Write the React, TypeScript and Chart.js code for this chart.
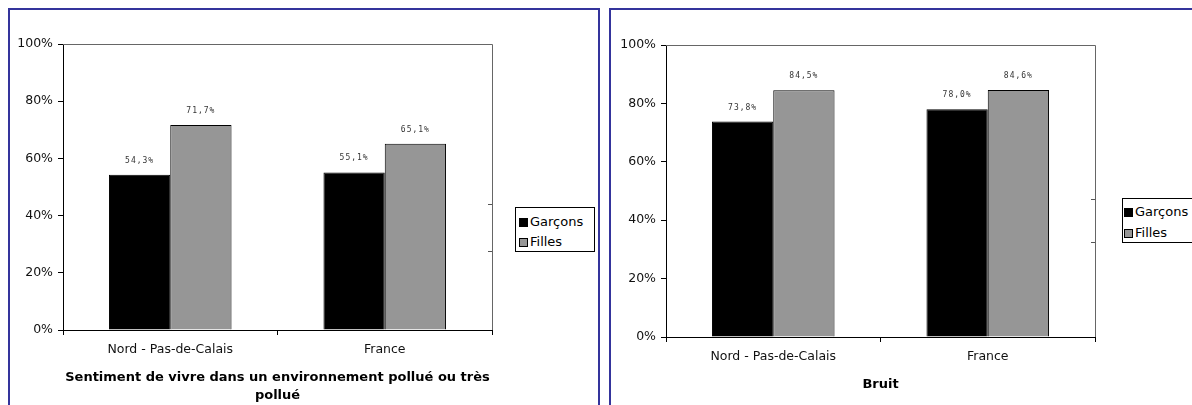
import React, { useEffect, useRef } from 'react';
import { Chart, registerables } from 'chart.js';

Chart.register(...registerables);

const categories = ['Nord - Pas-de-Calais', 'France'];
const seriesNames = ['Garçons', 'Filles'];
const seriesColors = ['#000000', '#969696'];
const pollutionGarcons = [54.3, 55.1];
const pollutionFilles = [71.7, 65.1];
const bruitGarcons = [73.8, 78.0];
const bruitFilles = [84.5, 84.6];
const yTickValues = [0, 20, 40, 60, 80, 100];
const pollutionTitle = ['Sentiment de vivre dans un environnement pollué ou très', 'pollué'];
const bruitTitle = 'Bruit';

const FONT = 'DejaVu Sans';

const framePlugin = {
  id: 'frame',
  afterDatasetsDraw(chart: any) {
    const { ctx, chartArea } = chart;
    const { left, top, right, bottom } = chartArea;
    ctx.save();
    ctx.strokeStyle = '#666666';
    ctx.lineWidth = 1;
    ctx.beginPath();
    ctx.moveTo(left, Math.round(top) + 0.5);
    ctx.lineTo(Math.round(right) + 0.5, Math.round(top) + 0.5);
    ctx.lineTo(Math.round(right) + 0.5, bottom);
    ctx.stroke();
    ctx.restore();
  },
};

const valueLabelPlugin = {
  id: 'valueLabels',
  afterDatasetsDraw(chart: any) {
    const { ctx } = chart;
    ctx.save();
    ctx.font = `8px "DejaVu Sans Mono"`;
    try {
      (ctx as any).letterSpacing = '1px';
    } catch (e) {}
    ctx.fillStyle = '#333333';
    ctx.textAlign = 'center';
    ctx.textBaseline = 'middle';
    chart.data.datasets.forEach((ds: any, i: number) => {
      const meta = chart.getDatasetMeta(i);
      meta.data.forEach((bar: any, j: number) => {
        const v = ds.data[j] as number;
        const txt = v.toFixed(1).replace('.', ',') + '%';
        ctx.fillText(txt, bar.x, bar.y - 14);
      });
    });
    ctx.restore();
  },
};

type Geom = {
  yWidth: number;
  padTop: number;
  padRight: number;
  xHeight: number;
  titlePadBottom: number;
};

function makeConfig(garcons: number[], filles: number[], title: string | string[], g: Geom): any {
  return {
    type: 'bar',
    data: {
      labels: categories,
      datasets: [
        {
          label: seriesNames[0],
          data: garcons,
          backgroundColor: seriesColors[0],
          borderColor: '#000000',
          borderWidth: 1,
          categoryPercentage: 0.5714,
          barPercentage: 1,
        },
        {
          label: seriesNames[1],
          data: filles,
          backgroundColor: seriesColors[1],
          borderColor: '#000000',
          borderWidth: 1,
          categoryPercentage: 0.5714,
          barPercentage: 1,
        },
      ],
    },
    options: {
      responsive: false,
      animation: false,
      devicePixelRatio: 1,
      layout: { padding: { left: 0, top: g.padTop, right: g.padRight, bottom: 0 } },
      plugins: {
        legend: { display: false },
        tooltip: { enabled: false },
        title: { display: false },
      },
      scales: {
        x: {
          grid: {
            display: true,
            drawOnChartArea: false,
            drawTicks: true,
            tickLength: 5,
            color: '#000000',
            offset: true,
          },
          border: { display: true, color: '#000000', width: 1 },
          ticks: {
            color: '#111111',
            font: { family: FONT, size: 12.5 },
            padding: 7,
            maxRotation: 0,
            autoSkip: false,
          },
          title: {
            display: true,
            text: title,
            color: '#000000',
            font: { family: FONT, size: 13, weight: 'bold', lineHeight: 1.38 },
            padding: { top: 0, bottom: g.titlePadBottom },
          },
          afterFit(scale: any) {
            scale.height = g.xHeight;
          },
        },
        y: {
          min: 0,
          max: 100,
          afterBuildTicks(scale: any) {
            scale.ticks = yTickValues.map((v) => ({ value: v }));
          },
          grid: {
            display: true,
            drawOnChartArea: false,
            drawTicks: true,
            tickLength: 5,
            color: '#000000',
          },
          border: { display: true, color: '#000000', width: 1 },
          ticks: {
            color: '#111111',
            font: { family: FONT, size: 12.5 },
            padding: 5,
            callback: (v: any) => `${v}%`,
          },
          afterFit(scale: any) {
            scale.width = g.yWidth;
          },
        },
      },
    },
    plugins: [framePlugin, valueLabelPlugin],
  };
}

function BarChart(props: {
  garcons: number[];
  filles: number[];
  title: string | string[];
  geom: Geom;
  left: number;
  top: number;
  width: number;
  height: number;
}) {
  const ref = useRef<HTMLCanvasElement | null>(null);
  useEffect(() => {
    if (!ref.current) return;
    const chart = new Chart(ref.current, makeConfig(props.garcons, props.filles, props.title, props.geom));
    return () => chart.destroy();
  }, []);
  return (
    <canvas
      ref={ref}
      width={props.width}
      height={props.height}
      style={{
        position: 'absolute',
        left: props.left,
        top: props.top,
        width: props.width,
        height: props.height,
      }}
    />
  );
}

function Legend(props: { left: number; top: number; width: number; height: number; swatchLeft: number; firstY: number; gap: number }) {
  return (
    <div
      style={{
        position: 'absolute',
        left: props.left,
        top: props.top,
        width: props.width,
        height: props.height,
        border: '1px solid #000',
        boxSizing: 'border-box',
        background: '#fff',
        fontFamily: FONT,
        fontSize: 13,
        color: '#000',
      }}
    >
      {seriesNames.map((name, i) => (
        <div
          key={name}
          style={{
            position: 'absolute',
            left: props.swatchLeft,
            top: props.firstY + i * props.gap - 8,
            height: 16,
            display: 'flex',
            alignItems: 'center',
            whiteSpace: 'nowrap',
          }}
        >
          <span
            style={{
              display: 'inline-block',
              width: 7,
              height: 7,
              background: seriesColors[i],
              border: '1px solid #000',
              marginRight: 2,
            }}
          />
          <span style={{ lineHeight: '16px' }}>{name}</span>
        </div>
      ))}
    </div>
  );
}

function Tick(props: { left: number; top: number }) {
  return (
    <div
      style={{
        position: 'absolute',
        left: props.left,
        top: props.top,
        width: 4,
        height: 1,
        background: '#555',
      }}
    />
  );
}

export default function App() {
  const borderColor = '#34349c';
  return (
    <div
      style={{
        position: 'fixed',
        left: 0,
        top: 0,
        width: 1192,
        height: 405,
        overflow: 'hidden',
        background: '#fff',
      }}
    >
      <div
        style={{
          position: 'absolute',
          left: 8,
          top: 8,
          width: 592,
          height: 440,
          border: `2px solid ${borderColor}`,
          boxSizing: 'border-box',
        }}
      />
      <div
        style={{
          position: 'absolute',
          left: 609,
          top: 8,
          width: 640,
          height: 440,
          border: `2px solid ${borderColor}`,
          boxSizing: 'border-box',
        }}
      />
      <BarChart
        garcons={pollutionGarcons}
        filles={pollutionFilles}
        title={pollutionTitle}
        geom={{ yWidth: 53, padTop: 34, padRight: 106, xHeight: 75, titlePadBottom: 0 }}
        left={10}
        top={10}
        width={588}
        height={395}
      />
      <BarChart
        garcons={bruitGarcons}
        filles={bruitFilles}
        title={bruitTitle}
        geom={{ yWidth: 55, padTop: 35, padRight: 97, xHeight: 68, titlePadBottom: 11 }}
        left={611}
        top={10}
        width={581}
        height={395}
      />
      <Tick left={488} top={204} />
      <Tick left={488} top={251} />
      <Tick left={1091} top={199} />
      <Tick left={1091} top={242} />
      <Legend left={515} top={207} width={80} height={45} swatchLeft={3} firstY={14} gap={20} />
      <Legend left={1122} top={198} width={80} height={45} swatchLeft={1} firstY={13} gap={21} />
    </div>
  );
}
